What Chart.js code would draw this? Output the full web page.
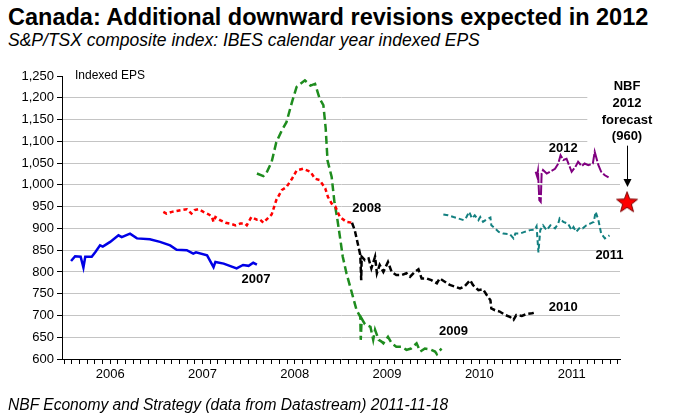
<!DOCTYPE html>
<html>
<head>
<meta charset="utf-8">
<script src="https://cdn.jsdelivr.net/npm/chart.js@4.4.0/dist/chart.umd.min.js"></script>
<style>
  html, body { margin: 0; padding: 0; background: #fff; }
  body { width: 687px; height: 420px; position: relative; overflow: hidden; font-family: "Liberation Sans", Arial, sans-serif; }
  #title { position: absolute; left: 8px; top: 3px; font-size: 23.5px; line-height: 28px; font-weight: bold; color: #000; white-space: nowrap; }
  #subtitle { position: absolute; left: 8px; top: 30px; font-size: 17.5px; line-height: 20px; font-style: italic; color: #000; white-space: nowrap; }
  #footer { position: absolute; left: 8px; top: 396px; font-size: 15.6px; line-height: 18px; font-style: italic; color: #000; white-space: nowrap; }
  #c { position: absolute; left: 0; top: 0; }
</style>
</head>
<body>
<div id="title">Canada: Additional downward revisions expected in 2012</div>
<div id="subtitle">S&amp;P/TSX composite index: IBES calendar year indexed EPS</div>
<canvas id="c" width="687" height="420"></canvas>
<div id="footer">NBF Economy and Strategy (data from Datastream) 2011-11-18</div>
<script>
// ---- Data (x = decimal year, y = indexed EPS) ----
const eps2007 = [[2006.076,825],[2006.12,836],[2006.18,835],[2006.21,810],[2006.23,835],[2006.30,835],[2006.34,846],[2006.39,861],[2006.42,858],[2006.50,869],[2006.59,884],[2006.625,880],[2006.715,888],[2006.79,877],[2006.93,875],[2007.04,869],[2007.15,861],[2007.22,851],[2007.33,850],[2007.40,842],[2007.43,845],[2007.55,838],[2007.62,811],[2007.64,823],[2007.73,819],[2007.87,808],[2007.94,816],[2008.0,814],[2008.05,821],[2008.09,817]];
const eps2008 = [[2007.076,938],[2007.11,934],[2007.17,938],[2007.22,940],[2007.275,942],[2007.33,944],[2007.38,934],[2007.415,942],[2007.455,944],[2007.51,938],[2007.56,933],[2007.60,928],[2007.62,915],[2007.64,926],[2007.69,919],[2007.75,913],[2007.80,911],[2007.86,907],[2007.91,911],[2007.96,911],[2007.98,907],[2008.03,926],[2008.09,920],[2008.12,921],[2008.16,913],[2008.25,932],[2008.30,965],[2008.36,988],[2008.41,995],[2008.47,1014],[2008.52,1033],[2008.59,1037],[2008.67,1030],[2008.72,1014],[2008.77,1011],[2008.83,992],[2008.86,972],[2008.90,957],[2008.94,950],[2008.99,926],[2009.06,915],[2009.12,913]];
const eps2009 = [[2008.09,1026],[2008.16,1020],[2008.19,1026],[2008.25,1053],[2008.30,1098],[2008.36,1125],[2008.41,1144],[2008.47,1190],[2008.52,1225],[2008.61,1240],[2008.67,1228],[2008.72,1232],[2008.77,1198],[2008.81,1183],[2008.835,1130],[2008.855,1056],[2008.90,1018],[2008.93,960],[2008.96,923],[2008.99,880],[2009.02,835],[2009.06,797],[2009.12,751],[2009.17,712],[2009.21,697],[2009.215,644],[2009.225,693],[2009.26,680],[2009.32,674],[2009.35,644],[2009.37,667],[2009.41,644],[2009.44,640],[2009.46,636],[2009.51,651],[2009.55,636],[2009.60,628],[2009.66,628],[2009.71,621],[2009.76,624],[2009.82,636],[2009.86,617],[2009.91,624],[2009.97,622],[2010.02,617],[2010.04,611],[2010.09,624]];
const eps2010 = [[2009.12,913],[2009.15,896],[2009.19,858],[2009.21,839],[2009.22,781],[2009.225,835],[2009.26,827],[2009.30,831],[2009.33,808],[2009.37,835],[2009.39,797],[2009.42,816],[2009.46,800],[2009.51,823],[2009.55,800],[2009.60,793],[2009.66,793],[2009.71,797],[2009.75,789],[2009.80,800],[2009.84,806],[2009.875,785],[2009.93,785],[2009.98,781],[2010.04,774],[2010.07,785],[2010.13,777],[2010.18,770],[2010.24,766],[2010.29,762],[2010.34,767],[2010.40,781],[2010.43,770],[2010.49,758],[2010.54,760],[2010.58,747],[2010.62,735],[2010.63,716],[2010.67,712],[2010.72,709],[2010.78,701],[2010.83,697],[2010.87,690],[2010.90,701],[2010.96,699],[2011.01,703],[2011.07,705],[2011.09,706]];
const eps2011 = [[2010.11,932],[2010.16,930],[2010.22,926],[2010.27,923],[2010.33,919],[2010.36,926],[2010.39,938],[2010.42,923],[2010.45,930],[2010.49,919],[2010.51,926],[2010.54,915],[2010.58,921],[2010.62,925],[2010.63,907],[2010.67,900],[2010.71,892],[2010.76,888],[2010.83,887],[2010.87,877],[2010.89,888],[2010.94,888],[2010.99,892],[2011.05,896],[2011.10,897],[2011.12,905],[2011.14,845],[2011.16,896],[2011.19,907],[2011.23,896],[2011.27,907],[2011.32,900],[2011.355,911],[2011.37,923],[2011.41,915],[2011.46,911],[2011.50,896],[2011.52,903],[2011.55,892],[2011.59,902],[2011.62,900],[2011.66,907],[2011.70,911],[2011.74,915],[2011.76,938],[2011.79,919],[2011.82,888],[2011.86,877],[2011.91,884]];
const eps2012 = [[2011.11,1030],[2011.125,1020],[2011.135,1032],[2011.15,965],[2011.165,961],[2011.175,1026],[2011.19,1034],[2011.23,1026],[2011.28,1032],[2011.32,1037],[2011.355,1049],[2011.38,1068],[2011.41,1057],[2011.445,1060],[2011.48,1041],[2011.50,1030],[2011.54,1041],[2011.57,1053],[2011.61,1043],[2011.64,1049],[2011.68,1045],[2011.73,1049],[2011.75,1076],[2011.79,1045],[2011.82,1030],[2011.86,1022],[2011.90,1017]];
const forecast2012 = [[2012.10,960]];
const yTickValues = [600,650,700,750,800,850,900,950,1000,1050,1100,1150,1200,1250];
const xYearLabels = ['2006','2007','2008','2009','2010','2011'];

// Label anchors (value coordinates) for the in-chart annotations
const seriesLabels = [
  {text:'2007', x:2008.08, y:783},
  {text:'2008', x:2009.28, y:946},
  {text:'2009', x:2010.22, y:663},
  {text:'2010', x:2011.41, y:719},
  {text:'2011', x:2011.91, y:839},
  {text:'2012', x:2011.41, y:1083}
];

const toXY = arr => arr.map(p => ({x:p[0], y:p[1]}));
const FONT = '"Liberation Sans", Arial, sans-serif';
Chart.defaults.font.family = FONT;
Chart.defaults.color = '#000';

// filled red star point style
const star = document.createElement('canvas');
star.width = 24; star.height = 24;
(function(){
  const g = star.getContext('2d');
  g.beginPath();
  for (let i = 0; i < 10; i++) {
    const r = i % 2 === 0 ? 11 : 4.6;
    const a = -Math.PI/2 + i*Math.PI/5;
    const px = 12 + r*Math.cos(a), py = 12.5 + r*Math.sin(a);
    if (i === 0) g.moveTo(px, py); else g.lineTo(px, py);
  }
  g.closePath();
  g.fillStyle = '#ff0000'; g.fill();
  g.strokeStyle = '#7a0000'; g.lineWidth = 1; g.stroke();
})();

const annot = {
  id: 'annot',
  beforeDatasetsDraw(chart) {
    const {ctx, scales:{x, y}, chartArea} = chart;
    ctx.save();
    ctx.fillStyle = '#fff';
    const x0 = x.getPixelForValue(2011.67);
    const yb = y.getPixelForValue(1080);
    ctx.fillRect(x0, chartArea.top - 5, chartArea.right + 10 - x0, yb - chartArea.top + 5);
    ctx.restore();
  },
  afterDatasetsDraw(chart) {
    const {ctx, scales:{x, y}, chartArea} = chart;
    ctx.save();
    ctx.fillStyle = '#000';
    ctx.textAlign = 'left'; ctx.textBaseline = 'middle';
    ctx.font = '12px ' + FONT;
    ctx.fillText('Indexed EPS', chartArea.left + 13, y.getPixelForValue(1250));
    ctx.font = 'bold 13px ' + FONT;
    ctx.textAlign = 'center';
    seriesLabels.forEach(l => ctx.fillText(l.text, x.getPixelForValue(l.x), y.getPixelForValue(l.y)));
    const fx = x.getPixelForValue(forecast2012[0][0]);
    const aTop = y.getPixelForValue(1090), aBot = y.getPixelForValue(995);
    ctx.font = 'bold 13px ' + FONT;
    const lines = ['NBF','2012','forecast','(960)'];
    lines.forEach((t, i) => ctx.fillText(t, fx, aTop - 9 - (lines.length - 1 - i) * 16.7));
    ctx.strokeStyle = '#000'; ctx.lineWidth = 1;
    ctx.beginPath(); ctx.moveTo(fx + 0.5, aTop); ctx.lineTo(fx + 0.5, aBot - 5); ctx.stroke();
    ctx.beginPath(); ctx.moveTo(fx + 0.5, aBot); ctx.lineTo(fx - 3.5, aBot - 8); ctx.lineTo(fx + 4.5, aBot - 8); ctx.closePath();
    ctx.fill();
    ctx.restore();
  }
};

const lineDs = (label, data, color, dash, width) => ({
  label, data: toXY(data), borderColor: color, backgroundColor: color,
  borderWidth: width, borderDash: dash, pointRadius: 0, tension: 0, fill: false
});

new Chart(document.getElementById('c'), {
  type: 'line',
  data: {
    datasets: [
      lineDs('2007', eps2007, '#0000e6', [], 2.5),
      lineDs('2008', eps2008, '#ff0000', [4,3], 2.5),
      lineDs('2009', eps2009, '#1e8c1e', [8,4], 2.5),
      lineDs('2010', eps2010, '#000000', [6,3], 2.5),
      lineDs('2011', eps2011, '#138080', [5,3], 2),
      lineDs('2012', eps2012, '#800080', [10,2], 2),
      { label: 'forecast', data: toXY(forecast2012), showLine: false, pointStyle: star, pointRadius: 11, clip: false }
    ]
  },
  plugins: [annot],
  options: {
    responsive: false, animation: false, devicePixelRatio: 1,
    layout: { padding: { top: 76, right: 67, bottom: 21, left: 0 } },
    plugins: { legend: { display: false }, tooltip: { enabled: false } },
    scales: {
      x: {
        type: 'linear', min: 2005.978, max: 2012.024,
        afterBuildTicks: s => { const t = []; for (let m = 0; m <= 72; m++) t.push({value: 2006 + m/12}); s.ticks = t; },
        afterFit: s => { s.height = 40; },
        ticks: {
          autoSkip: false, maxRotation: 0, minRotation: 0, padding: 3,
          font: { size: 13 }, color: '#000',
          callback: v => { const m = Math.round((v - 2006) * 12); return (m % 12 === 6) ? xYearLabels[Math.floor(m/12)] : ''; }
        },
        grid: { drawOnChartArea: false, drawTicks: true, tickLength: 5, tickColor: '#000', tickWidth: 1 },
        border: { display: true, color: '#000', width: 1 }
      },
      y: {
        type: 'linear', min: 600, max: 1250,
        afterBuildTicks: s => { s.ticks = yTickValues.map(v => ({value: v})); },
        afterFit: s => { s.width = 62; },
        ticks: { padding: 3, font: { size: 13 }, color: '#000', callback: v => v.toLocaleString('en-US') },
        grid: { color: c => (c.tick && (c.tick.value === 1250 || c.tick.value === 600)) ? 'rgba(0,0,0,0)' : '#c4c4c4',
                lineWidth: 1, tickLength: 5, tickColor: '#000' },
        border: { display: true, color: '#000', width: 1 }
      }
    }
  }
});
</script>
</body>
</html>
